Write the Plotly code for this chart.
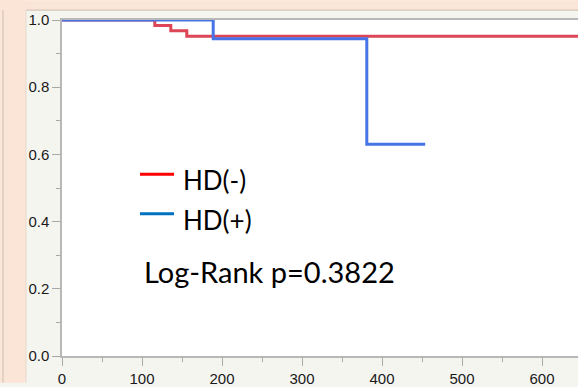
import plotly.graph_objects as go

# ---- data (Kaplan-Meier step curves) ----
red_label = "HD(-)"
red_time = [0, 116, 136, 156, 660]
red_surv = [1.0, 0.984, 0.968, 0.952, 0.952]

blue_label = "HD(+)"
blue_time = [0, 189, 381, 454]
blue_surv = [1.0, 0.944, 0.630, 0.630]

x_ticks = [0, 100, 200, 300, 400, 500, 600]
y_ticks = [0.0, 0.2, 0.4, 0.6, 0.8, 1.0]
pvalue_text = "Log-Rank p=0.3822"

# ---- layout geometry ----
W, H = 578, 387
ML, MR, MT, MB = 62, 0, 20, 27
PW, PH = W - ML - MR, H - MT - MB


def px_x(X):
    return (X - ML) / PW


def px_y(Y):
    return (H - MB - Y) / PH


fig = go.Figure()
fig.add_trace(go.Scatter(x=red_time, y=red_surv, mode="lines", line_shape="hv",
                         line=dict(color="#DC4656", width=3), name=red_label,
                         showlegend=False))
fig.add_trace(go.Scatter(x=blue_time, y=blue_surv, mode="lines", line_shape="hv",
                         line=dict(color="#4674E6", width=3), name=blue_label,
                         showlegend=False))

peach = "#FBE5D6"
edge = "#CDBDB2"
shapes = [
    dict(type="rect", xref="paper", yref="paper", x0=px_x(0), x1=px_x(26),
         y0=px_y(H), y1=px_y(0), fillcolor=peach, line_width=0, layer="below"),
    dict(type="rect", xref="paper", yref="paper", x0=px_x(0), x1=px_x(W),
         y0=px_y(10), y1=px_y(0), fillcolor=peach, line_width=0, layer="below"),
    dict(type="line", xref="paper", yref="paper", x0=px_x(26), x1=px_x(W),
         y0=px_y(10), y1=px_y(10), line=dict(color=edge, width=1)),
    dict(type="line", xref="paper", yref="paper", x0=px_x(26), x1=px_x(26),
         y0=px_y(10), y1=px_y(H), line=dict(color="#E6D8CE", width=1)),
    dict(type="line", xref="paper", yref="paper", x0=px_x(3), x1=px_x(3),
         y0=px_y(10), y1=px_y(H), line=dict(color=edge, width=1)),
    # legend sample lines
    dict(type="line", xref="paper", yref="paper", x0=px_x(140), x1=px_x(174),
         y0=px_y(176), y1=px_y(176), line=dict(color="#FF0000", width=3)),
    dict(type="line", xref="paper", yref="paper", x0=px_x(140), x1=px_x(174),
         y0=px_y(216), y1=px_y(216), line=dict(color="#0070C0", width=3)),
]

fam = "Lato, Carlito, Calibri, sans-serif"
leg_font = dict(family=fam, size=26, color="#000000")
p_font = dict(family=fam, size=29, color="#000000")
annotations = [
    dict(xref="paper", yref="paper", x=px_x(181), y=px_y(182), text=red_label,
         showarrow=False, xanchor="left", yanchor="middle", font=leg_font),
    dict(xref="paper", yref="paper", x=px_x(181), y=px_y(222), text=blue_label,
         showarrow=False, xanchor="left", yanchor="middle", font=leg_font),
    dict(xref="paper", yref="paper", x=px_x(142), y=px_y(274), text=pvalue_text,
         showarrow=False, xanchor="left", yanchor="middle", font=p_font),
]

axis_common = dict(
    showgrid=False, zeroline=False, showline=True, linecolor="#B8B8B8", linewidth=1.5,
    ticks="outside", ticklen=8, tickwidth=1, tickcolor="#A8A8A8",
    tickfont=dict(family="Liberation Sans, Arial, sans-serif", size=15, color="#1A1A1A"),
)

fig.update_layout(
    width=W, height=H,
    margin=dict(l=ML, r=MR, t=MT, b=MB, pad=0),
    paper_bgcolor="#F5F5F0", plot_bgcolor="#FFFFFF",
    showlegend=False,
    shapes=shapes, annotations=annotations,
    xaxis=dict(range=[0, PW / 0.8], tickvals=x_ticks, ticktext=[str(v) for v in x_ticks],
               mirror=True,
               minor=dict(dtick=50, ticklen=4, tickcolor="#A8A8A8", ticks="outside"),
               **axis_common),
    yaxis=dict(range=[0, 1.0], tickvals=y_ticks, ticktext=[f"{v:.1f}" for v in y_ticks],
               minor=dict(dtick=0.1, ticklen=4, tickcolor="#A8A8A8", ticks="outside"),
               **axis_common),
)

fig.write_html(
    "out.html",
    config={"displayModeBar": False},
    post_script="document.body.style.margin='0';document.body.style.overflow='hidden';",
)
